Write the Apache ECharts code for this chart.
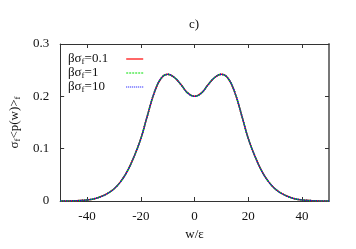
<!DOCTYPE html>
<html><head><meta charset="utf-8">
<script src="https://cdn.jsdelivr.net/npm/echarts@6/dist/echarts.min.js"></script>
<style>html,body{margin:0;padding:0;background:#fff}#c{width:356px;height:249px}</style>
</head><body><div id="c"></div>
<script>
var wValues = [-50,-47.5,-45,-42.5,-40,-37.5,-35,-32.5,-30,-27.5,-25,-22.5,-20,-17.5,-15,-12.5,-10,-7.5,-5,-2.5,0,2.5,5,7.5,10,12.5,15,17.5,20,22.5,25,27.5,30,32.5,35,37.5,40,42.5,45,47.5,50];
var s01 = [0,0.0001,0.0003,0.001,0.002,0.004,0.008,0.014,0.023,0.037,0.057,0.085,0.119,0.164,0.207,0.234,0.242,0.236,0.222,0.206,0.200,0.206,0.222,0.236,0.242,0.234,0.207,0.164,0.119,0.085,0.057,0.037,0.023,0.014,0.008,0.004,0.002,0.001,0.0003,0.0001,0];
var s1 = [0,0.0001,0.0003,0.001,0.002,0.004,0.008,0.014,0.023,0.037,0.057,0.085,0.119,0.164,0.207,0.234,0.242,0.236,0.222,0.206,0.200,0.206,0.222,0.236,0.242,0.234,0.207,0.164,0.119,0.085,0.057,0.037,0.023,0.014,0.008,0.004,0.002,0.001,0.0003,0.0001,0];
var s10 = [0,0.0001,0.0003,0.001,0.002,0.004,0.008,0.014,0.023,0.037,0.057,0.085,0.119,0.164,0.207,0.234,0.242,0.236,0.222,0.206,0.200,0.206,0.222,0.236,0.242,0.234,0.207,0.164,0.119,0.085,0.057,0.037,0.023,0.014,0.008,0.004,0.002,0.001,0.0003,0.0001,0];
var xTicks = [-40,-20,0,20,40];
var yTicks = [0,0.1,0.2,0.3];
var names = ['0.1','1','10'];

function pairs(arr){ return wValues.map(function(w,i){return [w,arr[i]];}); }
var font = '"Liberation Serif","DejaVu Serif",serif';
var FS = 13, SUBFS = 9;
var cv = document.createElement('canvas').getContext('2d');
function tw(s, size){ cv.font = size + 'px ' + font; return cv.measureText(s).width; }
var widths = names.map(function(n){ return tw('βσ',FS) + tw('f',SUBFS) + tw('='+n,FS); });
var maxW = Math.max.apply(null, widths);
var axisLineStyle = {color:'#333',width:1};
var chart = echarts.init(document.getElementById('c'));
chart.setOption({
  animation:false,
  title:{text:'c)',left:184,top:13,textStyle:{fontFamily:font,fontSize:13,fontWeight:'normal',color:'#111'}},
  grid:{left:58,right:27,top:44,bottom:48},
  legend:{
    orient:'vertical',left:63,top:47,align:'right',itemWidth:17,itemHeight:8,itemGap:0,
    itemStyle:{opacity:0},
    lineStyle:{width:1.2},
    data:names.map(function(n,i){return {name:'βσf='+n,textStyle:{padding:[0,13+maxW-widths[i],0,0]}};}),
    formatter:function(n){return n.replace('βσf=','βσ{sub|f}=');},
    textStyle:{fontFamily:font,fontSize:FS,lineHeight:14,color:'#111',rich:{sub:{fontFamily:font,fontSize:SUBFS,lineHeight:14,verticalAlign:'bottom',padding:[4,0,0,0]}}}
  },
  xAxis:[{
    type:'value',min:-50,max:50,
    name:'w/ε',nameLocation:'middle',nameGap:24,
    nameTextStyle:{fontFamily:font,fontSize:13,color:'#111'},
    axisLine:{show:true,onZero:false,lineStyle:axisLineStyle},
    axisTick:{show:true,inside:true,length:4,customValues:xTicks,lineStyle:axisLineStyle},
    axisLabel:{customValues:xTicks,fontFamily:font,fontSize:13,color:'#111',margin:9},
    splitLine:{show:false}
  },{
    type:'value',min:-50,max:50,position:'top',
    axisLine:{show:true,onZero:false,lineStyle:axisLineStyle},
    axisTick:{show:true,inside:true,length:4,customValues:xTicks,lineStyle:axisLineStyle},
    axisLabel:{show:false},splitLine:{show:false}
  }],
  yAxis:[{
    type:'value',min:0,max:0.3,interval:0.1,
    name:'σ{sub|f}<p(w)>{sub|f}',nameLocation:'middle',nameGap:32,nameRotate:90,
    nameTextStyle:{fontFamily:font,fontSize:13,color:'#111',rich:{sub:{fontFamily:font,fontSize:SUBFS,padding:[6,0,0,0]}}},
    axisLine:{show:true,onZero:false,lineStyle:axisLineStyle},
    axisTick:{show:true,inside:true,length:4,lineStyle:axisLineStyle},
    axisLabel:{fontFamily:font,fontSize:13,color:'#111',margin:11,formatter:function(v){return v===0?'0':v.toFixed(1);}},
    splitLine:{show:false}
  },{
    type:'value',min:0,max:0.3,interval:0.1,position:'right',
    axisLine:{show:true,onZero:false,lineStyle:{color:'#777',width:2}},
    axisTick:{show:true,inside:true,length:4,lineStyle:axisLineStyle},
    axisLabel:{show:false},splitLine:{show:false}
  }],
  series:[
    {name:'βσf=0.1',type:'line',data:pairs(s01),smooth:0.4,symbol:'none',lineStyle:{color:'#ff0000',width:1.5},itemStyle:{color:'#ff0000'}},
    {name:'βσf=1',type:'line',data:pairs(s1),smooth:0.4,symbol:'none',lineStyle:{color:'#00e000',width:1.5,type:[2,1]},itemStyle:{color:'#00e000'}},
    {name:'βσf=10',type:'line',data:pairs(s10),smooth:0.4,symbol:'none',lineStyle:{color:'#0000ff',width:1.5,type:[1,1]},itemStyle:{color:'#0000ff'}}
  ]
});
</script></body></html>
